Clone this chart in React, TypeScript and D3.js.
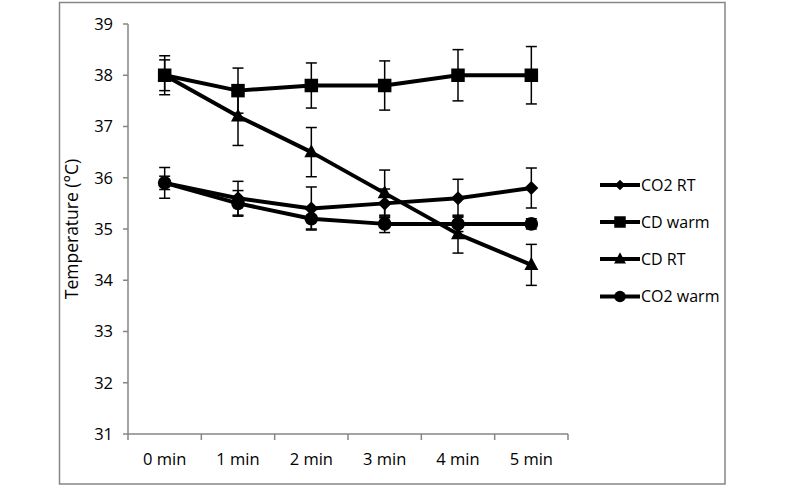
import React from "react";
import * as d3 from "d3";

const categories = ["0 min", "1 min", "2 min", "3 min", "4 min", "5 min"];
const seriesNames = ["CO2 RT", "CD warm", "CD RT", "CO2 warm"];
const symbols = ["diamond", "square", "triangle", "circle"];
const co2RT = [35.9, 35.6, 35.4, 35.5, 35.6, 35.8];
const co2RTErr = [0.3, 0.33, 0.42, 0.28, 0.37, 0.39];
const cdWarm = [38.0, 37.7, 37.8, 37.8, 38.0, 38.0];
const cdWarmErr = [0.38, 0.44, 0.44, 0.48, 0.5, 0.56];
const cdRT = [38.0, 37.2, 36.5, 35.7, 34.9, 34.3];
const cdRTErr = [0.3, 0.57, 0.48, 0.45, 0.37, 0.4];
const co2Warm = [35.9, 35.5, 35.2, 35.1, 35.1, 35.1];
const co2WarmErr = [0.13, 0.25, 0.2, 0.17, 0.15, 0.1];
const yTicks = [31, 32, 33, 34, 35, 36, 37, 38, 39];
const yLabel = "Temperature (°C)";

const seriesValues = [co2RT, cdWarm, cdRT, co2Warm];
const seriesErrs = [co2RTErr, cdWarmErr, cdRTErr, co2WarmErr];

const FONT = "'Open Sans', sans-serif";
const AXIS = "#868686";

function marker(kind: string, cx: number, cy: number, key: string, scale = 1) {
  if (kind === "square") {
    const s = 13.5 * scale;
    return <rect key={key} x={cx - s / 2} y={cy - s / 2} width={s} height={s} fill="#000" />;
  }
  if (kind === "diamond") {
    const r = 7 * scale;
    return <path key={key} d={`M${cx},${cy - r}L${cx + r},${cy}L${cx},${cy + r}L${cx - r},${cy}Z`} fill="#000" />;
  }
  if (kind === "triangle") {
    const h = 13 * scale, w = 14 * scale;
    return <path key={key} d={`M${cx},${cy - h * 0.6}L${cx + w / 2},${cy + h * 0.4}L${cx - w / 2},${cy + h * 0.4}Z`} fill="#000" />;
  }
  return <circle key={key} cx={cx} cy={cy} r={6.8 * scale} fill="#000" />;
}

export default function App() {
  const W = 785, H = 486;
  const left = 128, right = 568, top = 24, bottom = 434;
  const x = d3.scaleBand<string>().domain(categories).range([left, right]);
  const y = d3.scaleLinear().domain([31, 39]).range([bottom, top]);
  const cx = (c: string) => (x(c) as number) + x.bandwidth() / 2;
  const line = d3.line<number>().x((_, i) => cx(categories[i])).y((v) => y(v));

  const legendX1 = 600, legendX2 = 640;
  const legendY = [185, 222, 259, 296.5];

  return (
    <svg width={W} height={H} style={{ position: "absolute", left: 0, top: 0, background: "#fff" }}>
      <rect x={59.5} y={2.5} width={665.5} height={481.5} fill="#fff" stroke={AXIS} strokeWidth={1.5} />
      {/* y axis */}
      <line x1={left} x2={left} y1={top} y2={bottom} stroke={AXIS} strokeWidth={1.5} />
      {yTicks.map((t) => (
        <g key={t}>
          <line x1={left - 5} x2={left} y1={y(t)} y2={y(t)} stroke={AXIS} strokeWidth={1.5} />
          <text x={left - 15} y={y(t)} dy="0.36em" textAnchor="end" fontFamily={FONT} fontSize={16.5} fill="#000">
            {t}
          </text>
        </g>
      ))}
      {/* x axis */}
      <line x1={left} x2={right} y1={bottom} y2={bottom} stroke={AXIS} strokeWidth={1.5} />
      {[...categories.map((c) => x(c) as number), right].map((p, i) => (
        <line key={i} x1={p} x2={p} y1={bottom} y2={bottom + 6} stroke={AXIS} strokeWidth={1.5} />
      ))}
      {categories.map((c) => (
        <text key={c} x={cx(c)} y={465} textAnchor="middle" fontFamily={FONT} fontSize={16.5} fill="#000">
          {c}
        </text>
      ))}
      <text
        transform={`translate(78,${(top + bottom) / 2}) rotate(-90)`}
        textAnchor="middle"
        fontFamily={FONT}
        fontSize={17.5}
        fill="#000"
      >
        {yLabel}
      </text>
      {/* series */}
      {seriesValues.map((vals, si) => (
        <g key={si}>
          {vals.map((v, i) => {
            const px = cx(categories[i]);
            const e = seriesErrs[si][i];
            return (
              <g key={i} stroke="#000" strokeWidth={1.5}>
                <line x1={px} x2={px} y1={y(v + e)} y2={y(v - e)} />
                <line x1={px - 5.5} x2={px + 5.5} y1={y(v + e)} y2={y(v + e)} />
                <line x1={px - 5.5} x2={px + 5.5} y1={y(v - e)} y2={y(v - e)} />
              </g>
            );
          })}
          <path d={line(vals) || ""} fill="none" stroke="#000" strokeWidth={4} strokeLinejoin="round" />
          {vals.map((v, i) => marker(symbols[si], cx(categories[i]), y(v), `m${i}`))}
        </g>
      ))}
      {/* legend */}
      {seriesNames.map((n, i) => (
        <g key={n}>
          <line x1={legendX1} x2={legendX2} y1={legendY[i]} y2={legendY[i]} stroke="#000" strokeWidth={4} />
          {marker(symbols[i], (legendX1 + legendX2) / 2, legendY[i], `l${i}`, i === 0 ? 0.75 : 0.85)}
          <text x={legendX2 + 1} y={legendY[i]} dy="0.36em" fontFamily={FONT} fontSize={16} fill="#000">
            {n}
          </text>
        </g>
      ))}
    </svg>
  );
}
